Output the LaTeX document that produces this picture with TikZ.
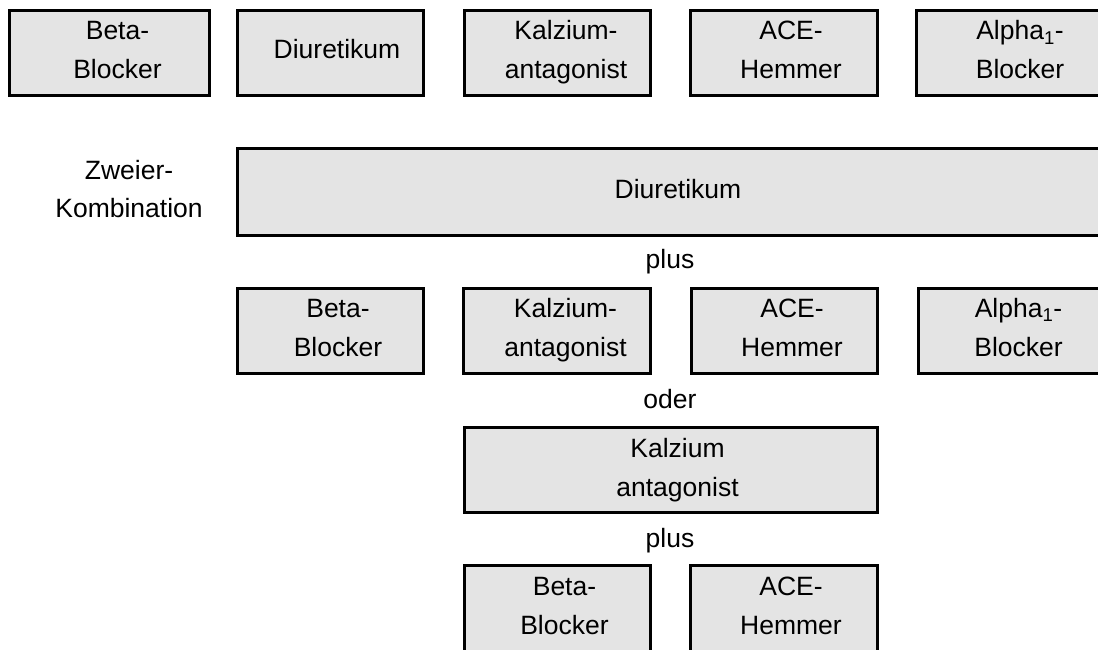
\documentclass[tikz,border=0pt]{standalone}
\usepackage{fontspec}
\setmainfont{Liberation Sans}
\definecolor{boxfill}{RGB}{228,228,228}
\begin{document}
\begin{tikzpicture}[x=1pt,y=-1pt,
  drugbox/.style={draw=black, line width=3pt, fill=boxfill, rectangle, inner sep=0pt, outer sep=0pt},
  txt/.style={inner sep=0pt, anchor=base, font=\fontsize{26.5}{38}\selectfont}]
\clip (0,0) rectangle (1098,650);
% row 1: single drugs
\node[drugbox, minimum width=200pt, minimum height=85pt] (a1) at (109.5,53) {};
\node[drugbox, minimum width=186pt, minimum height=85pt] (a2) at (330.5,53) {};
\node[drugbox, minimum width=186.5pt, minimum height=85pt] (a3) at (557.25,53) {};
\node[drugbox, minimum width=187pt, minimum height=85pt] (a4) at (784,53) {};
\node[drugbox, minimum width=187pt, minimum height=85pt] (a5) at (1010,53) {};
\node[txt] (a1t1) at (117.5,40) {Beta-};
\node[txt] (a1t2) at (117.5,79) {Blocker};
\node[txt] (a2t1) at (337,59) {Diuretikum};
\node[txt] (a3t1) at (566,40) {Kalzium-};
\node[txt] (a3t2) at (566,79) {antagonist};
\node[txt] (a4t1) at (791,40) {ACE-};
\node[txt] (a4t2) at (791,79) {Hemmer};
\node[txt] (a5t1) at (1020,40) {Alpha\textsubscript{1}-};
\node[txt] (a5t2) at (1020,79) {Blocker};
% Zweier-Kombination
\node[txt] (z1) at (129,179) {Zweier-};
\node[txt] (z2) at (129,217) {Kombination};
\node[drugbox, minimum width=866pt, minimum height=86.5pt] (big) at (670.5,191.75) {};
\node[txt] (bigt) at (678,198) {Diuretikum};
\node[txt] (plus1) at (670,268) {plus};
% row 2
\node[drugbox, minimum width=186pt, minimum height=85pt] (b1) at (330.5,331) {};
\node[drugbox, minimum width=187pt, minimum height=85pt] (b2) at (557,331) {};
\node[drugbox, minimum width=186pt, minimum height=85pt] (b3) at (784.5,331) {};
\node[drugbox, minimum width=186.5pt, minimum height=85pt] (b4) at (1011.75,331) {};
\node[txt] (b1t1) at (338,317) {Beta-};
\node[txt] (b1t2) at (338,356) {Blocker};
\node[txt] (b2t1) at (565.5,317) {Kalzium-};
\node[txt] (b2t2) at (565.5,356) {antagonist};
\node[txt] (b3t1) at (792,317) {ACE-};
\node[txt] (b3t2) at (792,356) {Hemmer};
\node[txt] (b4t1) at (1018.5,317) {Alpha\textsubscript{1}-};
\node[txt] (b4t2) at (1018.5,356) {Blocker};
\node[txt] (oder) at (670,408) {oder};
% Kalzium antagonist
\node[drugbox, minimum width=413.5pt, minimum height=85pt] (c) at (670.75,470) {};
\node[txt] (ct1) at (677.5,457) {Kalzium};
\node[txt] (ct2) at (677.5,496) {antagonist};
\node[txt] (plus2) at (670,547) {plus};
% bottom row
\node[drugbox, minimum width=186.5pt, minimum height=89.5pt] (d1) at (557.25,610.25) {};
\node[drugbox, minimum width=187pt, minimum height=89.5pt] (d2) at (784,610.25) {};
\node[txt] (d1t1) at (564.5,595) {Beta-};
\node[txt] (d1t2) at (564.5,634) {Blocker};
\node[txt] (d2t1) at (791,595) {ACE-};
\node[txt] (d2t2) at (791,634) {Hemmer};
\end{tikzpicture}
\end{document}
